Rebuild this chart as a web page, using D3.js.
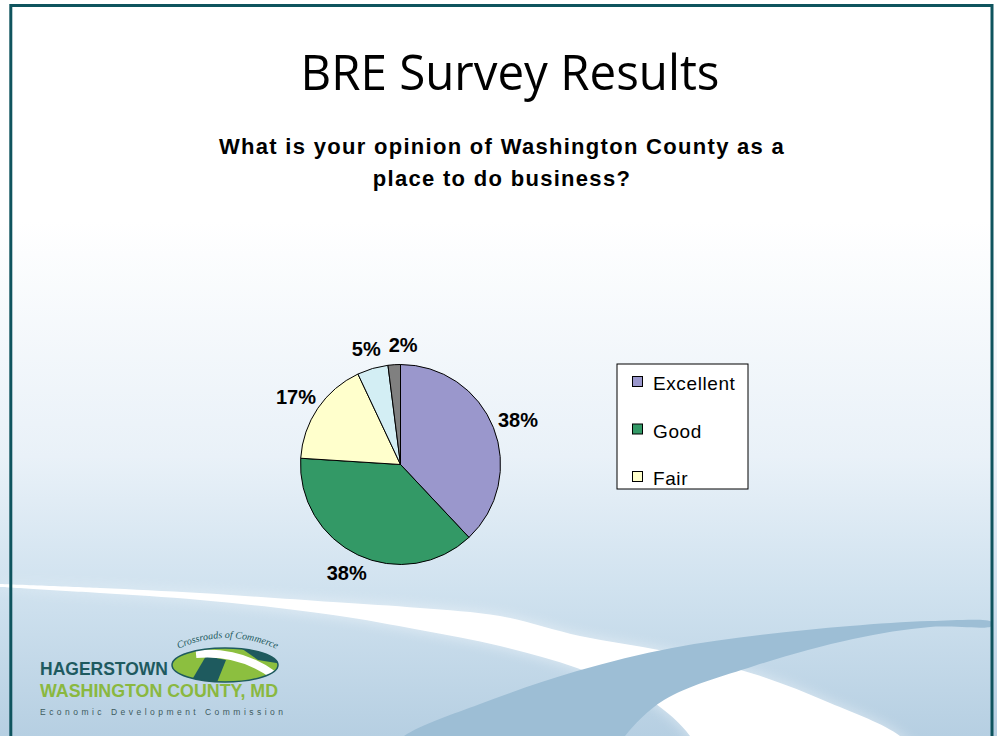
<!DOCTYPE html>
<html>
<head>
<meta charset="utf-8">
<script src="https://cdn.jsdelivr.net/npm/d3@7"></script>
<style>
  body { margin: 0; background: #fff; }
  svg { display: block; }
</style>
</head>
<body>
<div id="chart"></div>
<script>
// datos del grafico
const categories = ["Excellent", "Good", "Fair", "Poor", "No Response"];
const values = [38, 38, 17, 5, 2];
const colors = ["#9a97cc", "#339966", "#ffffcc", "#d3eef4", "#808080"];
const title = "BRE Survey Results";
const question = ["What is your opinion of Washington County as a", "place to do business?"];

const width = 997, height = 736;

const svg = d3.select("#chart")
  .append("svg")
  .attr("width", width)
  .attr("height", height);

const defs = svg.append("defs");

// fondo degradado blanco -> azul claro
const bg = defs.append("linearGradient")
  .attr("id", "bg")
  .attr("x1", 0).attr("y1", 0).attr("x2", 0).attr("y2", 1);
bg.append("stop").attr("offset", 0).attr("stop-color", "#ffffff");
bg.append("stop").attr("offset", 0.3).attr("stop-color", "#ffffff");
bg.append("stop").attr("offset", 0.62).attr("stop-color", "#e9f1f8");
bg.append("stop").attr("offset", 0.8).attr("stop-color", "#d0e2ef");
bg.append("stop").attr("offset", 1).attr("stop-color", "#b6cfe2");

defs.append("filter").attr("id", "soft")
  .append("feGaussianBlur").attr("stdDeviation", 7);

svg.append("rect")
  .attr("width", width)
  .attr("height", height)
  .attr("fill", "url(#bg)");

// curvas decorativas del fondo
const curve = d3.line().curve(d3.curveCatmullRom);

const whiteBand = [
  [0, 584], [100, 588], [200, 593], [333, 602], [420, 608], [500, 616], [580, 636],
  [664, 651], [754, 674], [830, 703], [900, 736], [920, 760],
  [700, 760], [690, 736], [650, 700], [577, 668], [500, 646], [420, 630], [333, 615],
  [200, 600], [100, 593], [0, 587]
];
const blueBand = [
  [380, 760], [404, 736], [480, 704], [577, 671], [672, 648], [760, 635], [850, 626],
  [930, 621], [992, 622],
  [992, 626], [930, 627], [853, 639], [754, 666], [664, 700], [625, 736], [610, 760]
];

svg.append("path")
  .attr("d", curve(whiteBand) + "Z")
  .attr("fill", "#ffffff")
  .attr("opacity", 0.5)
  .attr("filter", "url(#soft)");
svg.append("path")
  .attr("d", curve(whiteBand) + "Z")
  .attr("fill", "#ffffff");
svg.append("path")
  .attr("d", curve(blueBand) + "Z")
  .attr("fill", "#9dbed5");

// marco
svg.append("rect")
  .attr("x", 10.8).attr("y", 5.5)
  .attr("width", 981.2).attr("height", 760)
  .attr("fill", "none")
  .attr("stroke", "#0f545e")
  .attr("stroke-width", 3);

// titulos
svg.append("text")
  .attr("x", 510).attr("y", 90)
  .attr("text-anchor", "middle")
  .attr("font-family", "'Open Sans', sans-serif")
  .attr("font-size", 49)
  .attr("textLength", 419)
  .attr("lengthAdjust", "spacingAndGlyphs")
  .attr("fill", "#000")
  .text(title);

svg.append("g")
  .selectAll("text")
  .data(question)
  .join("text")
  .attr("x", 502)
  .attr("y", (d, i) => 154 + i * 32)
  .attr("text-anchor", "middle")
  .attr("font-family", "'Liberation Sans', Arial, sans-serif")
  .attr("font-weight", "bold")
  .attr("font-size", 22)
  .attr("letter-spacing", 1.3)
  .attr("fill", "#000")
  .text(d => d);

// grafico de torta
const cx = 400.5, cy = 464.5, radius = 100;
const data = categories.map((c, i) => ({ name: c, value: values[i], color: colors[i] }));

const pie = d3.pie().sort(null).value(d => d.value);
const arc = d3.arc().innerRadius(0).outerRadius(radius);
const anchorArc = d3.arc().innerRadius(113).outerRadius(113);
const arcs = pie(data);

const g = svg.append("g").attr("transform", `translate(${cx},${cy})`);

g.selectAll("path")
  .data(arcs)
  .join("path")
  .attr("d", arc)
  .attr("fill", d => d.data.color)
  .attr("stroke", "#000")
  .attr("stroke-width", 1);

// etiquetas de porcentaje (estilo Excel: borde de la caja a distancia fija)
const total = d3.sum(values);
const labels = g.selectAll("text.pct")
  .data(arcs)
  .join("text")
  .attr("class", "pct")
  .attr("text-anchor", "middle")
  .attr("dy", "0.35em")
  .attr("font-family", "'Liberation Sans', Arial, sans-serif")
  .attr("font-weight", "bold")
  .attr("font-size", 20)
  .attr("fill", "#000")
  .text(d => Math.round(d.data.value / total * 100) + "%");

const boxes = [];
labels.each(function (d, i) {
  const w = this.getComputedTextLength(), h = 14;
  const a = (d.startAngle + d.endAngle) / 2;
  const [ax, ay] = anchorArc.centroid(d);
  let x = ax + Math.sin(a) * w / 3;
  const y = ay - Math.cos(a) * h / 2;
  const prev = boxes[i - 1];
  // si se superpone con la etiqueta anterior, correr a la derecha
  if (prev && Math.abs(prev.y - y) < h && Math.abs(prev.x - x) < (prev.w + w) / 2) {
    x = prev.x + prev.w / 2 + w / 2 + 8;
  }
  boxes.push({ x, y, w });
  d3.select(this).attr("x", x).attr("y", y);
});

// leyenda (recortada por el recuadro, como en el original)
const legend = svg.append("g").attr("transform", "translate(617,364)");
defs.append("clipPath").attr("id", "legclip")
  .append("rect").attr("width", 131).attr("height", 125);

legend.append("rect")
  .attr("width", 131).attr("height", 125)
  .attr("fill", "#fff")
  .attr("stroke", "#000")
  .attr("stroke-width", 1);

const items = legend.append("g")
  .attr("clip-path", "url(#legclip)")
  .selectAll("g")
  .data(data)
  .join("g")
  .attr("transform", (d, i) => `translate(0,${26 + i * 47.5})`);

items.append("rect")
  .attr("x", 15.5).attr("y", -13.5)
  .attr("width", 10).attr("height", 10)
  .attr("fill", d => d.color)
  .attr("stroke", "#000")
  .attr("stroke-width", 1);

items.append("text")
  .attr("x", 36)
  .attr("font-family", "'Liberation Sans', Arial, sans-serif")
  .attr("font-size", 19)
  .attr("letter-spacing", 0.6)
  .attr("fill", "#000")
  .text(d => d.name);

// logo
const logo = svg.append("g");
defs.append("clipPath").attr("id", "ovalclip")
  .append("ellipse").attr("cx", 225).attr("cy", 665).attr("rx", 53).attr("ry", 17);
defs.append("path").attr("id", "motto")
  .attr("d", "M176,650 Q226,626 279,650");

logo.append("ellipse")
  .attr("cx", 225).attr("cy", 665).attr("rx", 53).attr("ry", 17)
  .attr("fill", "#8cbf3f");
const oval = logo.append("g").attr("clip-path", "url(#ovalclip)");
oval.append("path")
  .attr("d", "M186,690 L206,656 L226,660 L214,690 Z")
  .attr("fill", "#1e5a5e");
oval.append("path")
  .attr("d", "M238,646 L282,646 L282,664 L258,660 Z")
  .attr("fill", "#1e5a5e");
oval.append("path")
  .attr("d", "M196,654 Q240,650 275,676")
  .attr("fill", "none")
  .attr("stroke", "#fff")
  .attr("stroke-width", 8);
logo.append("ellipse")
  .attr("cx", 225).attr("cy", 665).attr("rx", 53).attr("ry", 17)
  .attr("fill", "none")
  .attr("stroke", "#1e5a5e")
  .attr("stroke-width", 1.5);

logo.append("text")
  .attr("font-family", "'Liberation Serif', serif")
  .attr("font-style", "italic")
  .attr("font-size", 10)
  .attr("fill", "#1e5a5e")
  .append("textPath")
  .attr("href", "#motto")
  .attr("startOffset", "50%")
  .attr("text-anchor", "middle")
  .text("Crossroads of Commerce");

logo.append("text")
  .attr("x", 40).attr("y", 675)
  .attr("font-family", "'Liberation Sans Narrow', 'Liberation Sans', sans-serif")
  .attr("font-weight", "bold")
  .attr("font-size", 18)
  .attr("textLength", 128)
  .attr("lengthAdjust", "spacingAndGlyphs")
  .attr("fill", "#1e5a60")
  .text("HAGERSTOWN");

logo.append("text")
  .attr("x", 40).attr("y", 697)
  .attr("font-family", "'Liberation Sans Narrow', 'Liberation Sans', sans-serif")
  .attr("font-weight", "bold")
  .attr("font-size", 18)
  .attr("textLength", 238)
  .attr("lengthAdjust", "spacingAndGlyphs")
  .attr("fill", "#8ab83f")
  .text("WASHINGTON COUNTY, MD");

logo.append("text")
  .attr("x", 40).attr("y", 715)
  .attr("font-family", "'Liberation Sans Narrow', 'Liberation Sans', sans-serif")
  .attr("font-size", 8.5)
  .attr("textLength", 243)
  .attr("lengthAdjust", "spacing")
  .attr("fill", "#3d5b5e")
  .text("Economic Development Commission");
</script>
</body>
</html>
